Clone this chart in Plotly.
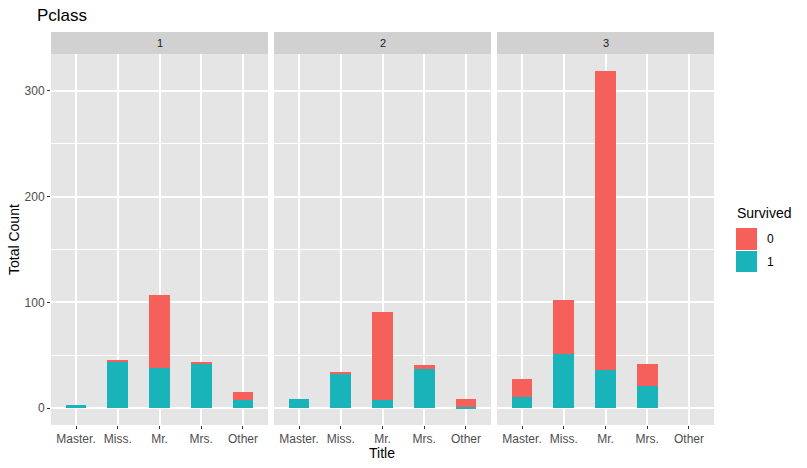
import plotly.graph_objects as go

titles = ["Master.", "Miss.", "Mr.", "Mrs.", "Other"]
pclasses = ["1", "2", "3"]
# counts per class, per title: survived = 1 and survived = 0
survived_1 = {
    "1": [3, 44, 38, 42, 8],
    "2": [9, 32, 8, 37, 1],
    "3": [11, 51, 36, 21, 0],
}
survived_0 = {
    "1": [0, 2, 69, 2, 7],
    "2": [0, 2, 83, 4, 8],
    "3": [17, 51, 283, 21, 0],
}
y_ticks = [0, 100, 200, 300]
legend_title = "Survived"
legend_labels = ["0", "1"]

W, H = 807, 468
RED, TEAL = "#F5605B", "#18B4B9"

panels_px = [(51, 268), (274, 491), (497, 714)]
panel_top, panel_bot = 54, 425
strip_top = 32

def px_x(p):
    return p / W

def px_y(p):
    return 1 - p / H

fig = go.Figure()
for i, pc in enumerate(pclasses):
    ax = "" if i == 0 else str(i + 1)
    fig.add_trace(go.Bar(
        x=titles, y=survived_1[pc], name="1", marker_color=TEAL,
        marker_line_width=0, width=0.5, showlegend=False,
        xaxis="x" + ax, yaxis="y" + ax))
    fig.add_trace(go.Bar(
        x=titles, y=survived_0[pc], name="0", marker_color=RED,
        marker_line_width=0, width=0.5, showlegend=False,
        xaxis="x" + ax, yaxis="y" + ax))

layout = dict(
    width=W, height=H,
    margin=dict(l=0, r=0, t=0, b=0, autoexpand=False),
    paper_bgcolor="white",
    plot_bgcolor="#E5E5E5",
    barmode="stack",
    bargap=0,
    showlegend=False,
    font=dict(family="Liberation Sans, Arial, sans-serif", color="#4D4D4D"),
    title=dict(text="Pclass", x=px_x(37), xanchor="left", xref="paper",
               y=px_y(15), yanchor="middle", yref="paper",
               font=dict(size=17, color="black")),
)
shapes = []
annotations = []
for i, (x0, x1) in enumerate(panels_px):
    ax = "" if i == 0 else str(i + 1)
    layout["xaxis" + ax] = dict(
        domain=[px_x(x0), px_x(x1)], anchor="y" + ax, automargin=False,
        type="category", categoryorder="array", categoryarray=titles,
        range=[-0.6, 4.6], showgrid=True, gridcolor="white", gridwidth=2,
        ticks="outside", ticklen=3, tickcolor="#333333", tickwidth=1,
        tickfont=dict(size=12, color="#4D4D4D"), zeroline=False,
        showline=False, fixedrange=True)
    layout["yaxis" + ax] = dict(
        domain=[px_y(panel_bot), px_y(panel_top)], anchor="x" + ax,
        automargin=False,
        range=[-15.95, 334.95], tickvals=y_ticks,
        showticklabels=(i == 0), ticks="outside" if i == 0 else "",
        ticklen=3, tickcolor="#333333",
        tickfont=dict(size=12, color="#4D4D4D"),
        showgrid=True, gridcolor="white", gridwidth=2, zeroline=False,
        minor=dict(dtick=50, tick0=0, showgrid=True, gridcolor="white",
                   gridwidth=1, ticks=""),
        showline=False, fixedrange=True)
    if i > 0:
        layout["yaxis" + ax]["matches"] = "y"
    shapes.append(dict(type="rect", xref="paper", yref="paper",
                       x0=px_x(x0), x1=px_x(x1),
                       y0=px_y(panel_top), y1=px_y(strip_top),
                       fillcolor="#D1D1D1", line=dict(width=0), layer="below"))
    annotations.append(dict(text=pclasses[i], xref="paper", yref="paper",
                            x=px_x((x0 + x1) / 2), y=px_y((panel_top + strip_top) / 2),
                            showarrow=False, xanchor="center", yanchor="middle",
                            font=dict(size=11, color="#1A1A1A")))

# legend (ggplot-style keys)
annotations.append(dict(text=legend_title, xref="paper", yref="paper",
                        x=px_x(735), y=px_y(213), showarrow=False,
                        xanchor="left", yanchor="middle",
                        font=dict(size=14, color="black")))
key_rows = [(228, 250), (251, 272)]
for (k0, k1), lab, col in zip(key_rows, legend_labels, [RED, TEAL]):
    shapes.append(dict(type="rect", xref="paper", yref="paper",
                       x0=px_x(736), x1=px_x(757), y0=px_y(k1), y1=px_y(k0),
                       fillcolor=col, line=dict(width=0)))
    annotations.append(dict(text=lab, xref="paper", yref="paper",
                            x=px_x(765), y=px_y((k0 + k1) / 2), showarrow=False,
                            xanchor="left", yanchor="middle",
                            font=dict(size=12, color="black")))

annotations.append(dict(text="Title", xref="paper", yref="paper",
                        x=px_x(382), y=px_y(453), showarrow=False,
                        xanchor="center", yanchor="middle",
                        font=dict(size=14, color="black")))
annotations.append(dict(text="Total Count", xref="paper", yref="paper",
                        x=px_x(14), y=px_y(240), showarrow=False, textangle=-90,
                        xanchor="center", yanchor="middle",
                        font=dict(size=14, color="black")))
layout["shapes"] = shapes
layout["annotations"] = annotations
fig.update_layout(**layout)
fig.write_html("out.html", config={"displayModeBar": False},
               post_script="document.body.style.margin='0px';"
                           "document.body.style.overflow='hidden';")
